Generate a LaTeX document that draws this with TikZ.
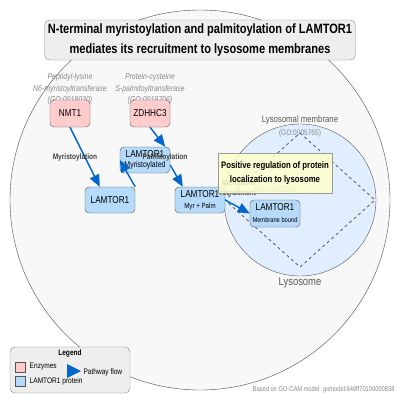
\documentclass[tikz,border=0pt]{standalone}
\usepackage{fontspec}
\setmainfont{Liberation Sans}[FakeStretch=0.82]
\usetikzlibrary{arrows.meta,positioning}
\definecolor{Enzyme}{HTML}{FFCCCC}
\definecolor{Protein}{HTML}{B5DAFA}
\definecolor{Flow}{HTML}{0066CC}
\definecolor{Cell}{HTML}{F8F8F8}
\definecolor{Lyso}{HTML}{E0EEFF}
\definecolor{Process}{HTML}{FFFFCC}
\definecolor{Panel}{HTML}{EEEEEE}
\definecolor{Edge}{HTML}{555555}
\definecolor{Note}{HTML}{888888}

\begin{document}
\begin{tikzpicture}[x=1pt, y=-1pt,
    box/.style={draw=Edge, rounded corners=4pt, minimum width=50pt, minimum height=26pt, inner sep=1pt, align=center},
    enzyme/.style={box, minimum width=40pt, minimum height=27pt, fill=Enzyme, font={\fontsize{10}{11}\selectfont}},
    protein/.style={box, fill=Protein, font={\fontsize{10}{11}\selectfont}},
    golabel/.style={text=Note, align=center, font={\itshape\fontsize{8.5}{11.5}\selectfont}},
    stepname/.style={text=black!75, font={\bfseries\fontsize{8}{10}\selectfont}, align=center},
    panel/.style={draw=Edge!70, fill=Panel, rounded corners=5pt},
    flow/.style={draw=Flow, line width=1.4pt, -{Triangle[length=12pt,width=10pt]}}
    ]

    \path[use as bounding box] (0,0) rectangle (400,400);
    \fill[white] (0,0) rectangle (400,400);

    \draw[Edge!90!black, fill=Cell] (200,200) circle[radius=190];

    \node[panel, minimum width=300pt, minimum height=40pt, align=center,
      font={\bfseries\fontsize{13.5}{20}\selectfont}] (title) at (200,40)
      {N-terminal myristoylation and palmitoylation of LAMTOR1\\mediates its recruitment to lysosome membranes};

    \draw[Edge, fill=Lyso] (300,200) circle[radius=76] coordinate (lysosome);
    \draw[Edge, dashed, thick] (300,133) -- (375,200) -- (300,267) -- (225,200) -- cycle;
    \node[text=black!65, font={\fontsize{9.5}{10}\selectfont}] (lysomem) at (300,120) {Lysosomal membrane};
    \node[text=Note, font={\fontsize{8}{9}\selectfont}] (lysomemgo) at (300,133) {(GO:0005765)};
    \node[text=black!65, font={\fontsize{11.5}{12}\selectfont}] (lysolabel) at (300,283) {Lysosome};

    \node[golabel] (nmtgo) at (70,89) {Peptidyl-lysine\\N6-myristoyltransferase\\(GO:0018030)};
    \node[golabel] (zdhgo) at (150,89) {Protein-cysteine\\S-palmitoyltransferase\\(GO:0019706)};

    \node[enzyme] (nmt) at (70,113.5) {NMT1};
    \node[enzyme] (zdhhc) at (150,113.5) {ZDHHC3};

    \node[protein] (lamtor) at (110,200) {LAMTOR1};
    \node[protein] (lamtormyr) at (145,160) {LAMTOR1\\[-1pt]{\fontsize{8.5}{9}\selectfont Myristoylated}};
    \node[protein] (lamtorpalm) at (200,200) {LAMTOR1\\[0pt]{\fontsize{7.5}{8}\selectfont Myr + Palm}};

    \node[stepname] (recruit) at (238,188) {Membrane\\recruitment};
    \node[text=Note, font={\fontsize{8}{9}\selectfont}] (procgo) at (275,190) {(GO:0150032)};
    \node[draw=Edge!60, fill=Process, fill opacity=0.85, text opacity=1, minimum width=100pt, minimum height=40pt, align=center,
      font={\bfseries\fontsize{9.5}{14}\selectfont}] (process) at (275,173)
      {Positive regulation of protein\\localization to lysosome};

    \node[protein, minimum height=27pt] (lamtormem) at (275,213.5) {LAMTOR1\\[1pt]{\fontsize{7}{8}\selectfont Membrane bound}};

    \draw[flow] (nmt.south) -- ([xshift=15pt]lamtor.north west);
    \draw[flow] (lamtor.north east) -- (lamtormyr.west);
    \draw[flow] (zdhhc.south) -- ([xshift=-5pt]lamtormyr.north east);
    \draw[flow] ([yshift=-5pt]lamtormyr.east) -- ([xshift=8pt]lamtorpalm.north west);
    \draw[flow] (lamtorpalm.east) -- (lamtormem.west);

    \node[stepname] (myrlabel) at (75,157) {Myristoylation};
    \node[stepname] (palmlabel) at (165,157) {Palmitoylation};

    \node[panel, minimum width=120pt, minimum height=46pt] (legend) at (70,370) {};
    \node[font={\bfseries\fontsize{8}{9}\selectfont}] (legendtitle) at (70,353) {Legend};
    \node[draw=Edge, fill=Enzyme, minimum size=10pt, inner sep=0pt] (keyenzyme) at (20,367) {};
    \node[right=1pt of keyenzyme, font={\fontsize{8}{9}\selectfont}] (keyenzymetext) {Enzymes};
    \node[draw=Edge, fill=Protein, minimum size=10pt, inner sep=0pt] (keyprotein) at (20,381) {};
    \node[right=1pt of keyprotein, font={\fontsize{8}{9}\selectfont}] (keyproteintext) {LAMTOR1 protein};
    \fill[Flow] (67,364) -- (81,371) -- (67,378) -- cycle;
    \node[font={\fontsize{8}{9}\selectfont}, anchor=west] (keyflow) at (80,372) {Pathway flow};

    \node[text=Note, anchor=east, font={\fontsize{7}{8}\selectfont}] (source) at (398,390) {Based on GO-CAM model: gomodel:646ff70100000838};
\end{tikzpicture}
\end{document}
